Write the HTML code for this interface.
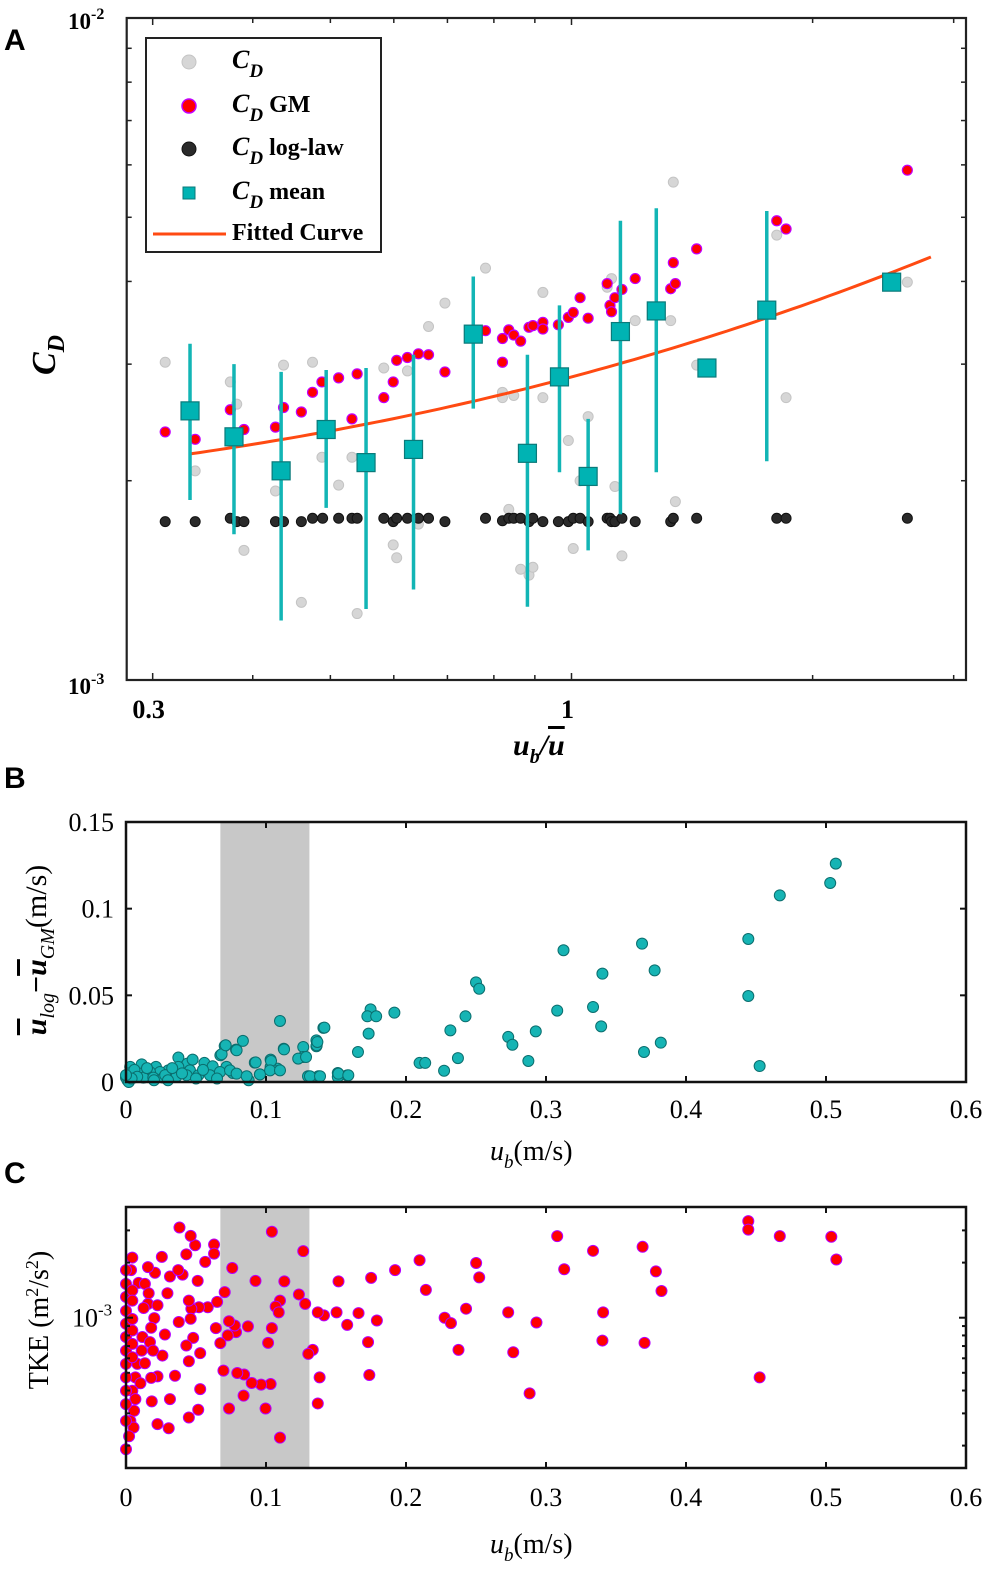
<!DOCTYPE html>
<html><head><meta charset="utf-8"><style>
html,body{margin:0;padding:0;background:#fff;}
svg{display:block;}
text{font-family:"Liberation Serif",serif;}
.lab{font-family:"Liberation Sans",sans-serif;font-weight:bold;font-size:30px;}
</style></head><body>
<svg id="fig" width="989" height="1570" viewBox="0 0 989 1570" xmlns="http://www.w3.org/2000/svg">
<text class="lab" x="4" y="50">A</text>
<text class="lab" x="4" y="788">B</text>
<text class="lab" x="4" y="1183">C</text>
<g id="pa"></g>
<g id="pb"></g>
<g id="pc"></g>
</svg>
<script>
// ===== Panel A data =====
const greyU=[0.311,0.375,0.382,0.339,0.390,0.427,0.437,0.460,0.475,0.488,0.512,0.532,0.540,0.583,0.599,0.605,0.624,0.644,0.663,0.695,0.781,0.820,0.820,0.835,0.847,0.864,0.885,0.895,0.921,0.921,0.991,1.005,1.025,1.049,1.108,1.122,1.133,1.156,1.201,1.330,1.340,1.348,1.433,1.804,1.853,2.626];
const greyCD=[3.02e-3,2.82e-3,2.61e-3,2.07e-3,1.57e-3,1.93e-3,2.99e-3,1.31e-3,3.02e-3,2.17e-3,1.97e-3,2.17e-3,1.26e-3,2.96e-3,1.60e-3,1.53e-3,2.93e-3,1.72e-3,3.42e-3,3.71e-3,4.19e-3,2.72e-3,2.67e-3,1.81e-3,2.69e-3,1.47e-3,1.44e-3,1.48e-3,3.85e-3,2.67e-3,2.30e-3,1.58e-3,2.00e-3,2.50e-3,3.92e-3,4.04e-3,1.96e-3,1.54e-3,3.49e-3,3.49e-3,5.65e-3,1.86e-3,2.99e-3,4.70e-3,2.67e-3,3.99e-3];
const gmU=[0.311,0.339,0.375,0.390,0.427,0.437,0.460,0.475,0.488,0.512,0.532,0.540,0.583,0.599,0.605,0.624,0.644,0.663,0.695,0.781,0.820,0.820,0.835,0.847,0.864,0.885,0.895,0.921,0.921,0.963,0.991,1.005,1.025,1.049,1.108,1.117,1.122,1.133,1.156,1.201,1.330,1.340,1.348,1.433,1.804,1.853,2.626];
const gmCD=[2.37e-3,2.31e-3,2.56e-3,2.39e-3,2.41e-3,2.58e-3,2.54e-3,2.72e-3,2.82e-3,2.86e-3,2.48e-3,2.90e-3,2.67e-3,2.82e-3,3.04e-3,3.07e-3,3.11e-3,3.10e-3,2.92e-3,3.37e-3,3.28e-3,3.02e-3,3.38e-3,3.32e-3,3.25e-3,3.41e-3,3.43e-3,3.47e-3,3.39e-3,3.44e-3,3.53e-3,3.59e-3,3.78e-3,3.52e-3,3.97e-3,3.68e-3,3.60e-3,3.78e-3,3.89e-3,4.04e-3,3.90e-3,4.27e-3,3.97e-3,4.48e-3,4.94e-3,4.80e-3,5.89e-3];
const logU=[0.311,0.339,0.375,0.382,0.390,0.427,0.437,0.460,0.475,0.489,0.512,0.532,0.540,0.583,0.599,0.605,0.624,0.644,0.663,0.695,0.781,0.820,0.835,0.847,0.864,0.885,0.895,0.921,0.963,0.991,1.005,1.025,1.049,1.108,1.117,1.122,1.133,1.156,1.201,1.330,1.340,1.433,1.804,1.853,2.626];
const logCD=[1.735e-3,1.735e-3,1.755e-3,1.735e-3,1.735e-3,1.735e-3,1.735e-3,1.735e-3,1.755e-3,1.755e-3,1.755e-3,1.755e-3,1.755e-3,1.755e-3,1.735e-3,1.755e-3,1.755e-3,1.755e-3,1.755e-3,1.735e-3,1.755e-3,1.74e-3,1.755e-3,1.755e-3,1.755e-3,1.735e-3,1.755e-3,1.735e-3,1.735e-3,1.735e-3,1.755e-3,1.755e-3,1.735e-3,1.755e-3,1.755e-3,1.735e-3,1.735e-3,1.755e-3,1.735e-3,1.735e-3,1.755e-3,1.755e-3,1.755e-3,1.755e-3,1.755e-3];
const meanU=[0.334,0.379,0.434,0.494,0.554,0.635,0.754,0.881,0.966,1.049,1.151,1.276,1.476,1.753,2.51];
const meanCD=[2.55e-3,2.33e-3,2.07e-3,2.39e-3,2.13e-3,2.23e-3,3.33e-3,2.20e-3,2.87e-3,2.03e-3,3.36e-3,3.61e-3,2.96e-3,3.62e-3,3.99e-3];
const meanHi=[3.22e-3,3.0e-3,2.92e-3,2.94e-3,2.96e-3,3.10e-3,4.07e-3,3.10e-3,3.68e-3,2.48e-3,4.94e-3,5.16e-3,null,5.11e-3,null];
const meanLo=[1.87e-3,1.66e-3,1.23e-3,1.82e-3,1.28e-3,1.37e-3,2.57e-3,1.29e-3,2.06e-3,1.57e-3,1.78e-3,2.06e-3,null,2.14e-3,null];
const fitCoef=[1.715e-3,1.155e-3,0.8]; // CD = a + b*u^n
const fitRange=[0.334,2.81];
const aXTicks=[0.3,1];
const aXTickLabels=["0.3","1"];

// ===== Panel B data =====
const bU=[0.507,0.503,0.467,0.4445,0.4445,0.4526,0.3686,0.3776,0.370,0.382,0.3403,0.3336,0.3394,0.3125,0.308,0.2927,0.2874,0.273,0.276,0.250,0.2523,0.2425,0.2317,0.2371,0.2272,0.2097,0.2137,0.1917,0.1747,0.1724,0.1787,0.1733,0.1657,0.158,0.1513,0.1513,0.141,0.136,0.136,0.1374,0.130,0.1266,0.1266,0.123,0.1127,0.110,0.1082,0.1033,0.1033,0.0956,0.092,0.0835,0.0786,0.0705,0.0674,0.0876,0.0718,0.0763,0.003,0.0112,0.0214,0.0374,0.0438,0.0476,0.056,0.0619,0.0683,0.0712,0.079,0.0926,0.1036,0.1129,0.1286,0.1362,0.1367,0.1417,0.0457,0.0374,0.0302,0.0243,0.0171,0.01,0.003,0,0.0052,0.0124,0.0195,0.0267,0.0362,0.0433,0.0517,0.06,0.0671,0.0743,0.079,0.0862,0.0957,0.1029,0.11,0.1314,0.1386,0.1517,0.1588,0.001,0.002,0.006,0.008,0.015,0.028,0.033,0.04,0.05,0.055,0.065,0.002,0.004,0.0,0.02,0.03];
const bDiff=[0.126,0.1148,0.1077,0.0825,0.0496,0.0092,0.0798,0.0644,0.0173,0.0227,0.0625,0.0433,0.0321,0.076,0.0412,0.0292,0.0121,0.026,0.0215,0.0575,0.0538,0.0379,0.0298,0.0138,0.0065,0.011,0.011,0.040,0.0419,0.0379,0.0379,0.0279,0.0173,0.0038,0.0052,0.0029,0.0312,0.024,0.0206,0.0033,0.0033,0.0202,0.0144,0.0135,0.0192,0.0352,0.0077,0.0129,0.0087,0.0044,0.0112,0.0237,0.0187,0.0208,0.0154,0.001,0.0087,0.0052,0.0087,0.0102,0.0087,0.0141,0.0106,0.0129,0.011,0.0091,0.016,0.0212,0.0183,0.0113,0.0121,0.0188,0.0144,0.0212,0.0231,0.0314,0.0067,0.0087,0.0067,0.0058,0.0058,0.0048,0.0039,0.0025,0.0025,0.0025,0.0025,0.0025,0.0033,0.0039,0.0039,0.0039,0.0058,0.0067,0.0048,0.0033,0.0044,0.0067,0.0067,0.0033,0.0033,0.0048,0.0039,0.001,0.005,0.007,0.003,0.008,0.004,0.008,0.005,0.002,0.007,0.002,0.0,0.002,0.004,0.001,0.001];
const band=[0.0674,0.131];
const bXTicks=[0,0.1,0.2,0.3,0.4,0.5,0.6];
const bXTickLabels=["0","0.1","0.2","0.3","0.4","0.5","0.6"];
const bYTicks=[0,0.05,0.1,0.15];
const bYTickLabels=["0","0.05","0.1","0.15"];

// ===== Panel C data =====
const cU=[0.4445,0.4445,0.467,0.5038,0.5074,0.4526,0.308,0.3336,0.369,0.313,0.3785,0.3825,0.3408,0.3403,0.3704,0.2932,0.273,0.2766,0.2883,0.2523,0.2501,0.2429,0.2276,0.2321,0.2375,0.2097,0.2142,0.1922,0.1751,0.1518,0.1729,0.1738,0.1661,0.158,0.1792,0.1414,0.137,0.1504,0.1383,0.137,0.1334,0.1302,0.128,0.1266,0.1235,0.1131,0.11,0.1069,0.1042,0.1091,0.1042,0.1015,0.1033,0.0997,0.11,0.0965,0.0898,0.0844,0.084,0.0795,0.0736,0.0696,0.0786,0.0727,0.0777,0.0736,0.0871,0.0925,0.0759,0.0674,0.0642,0.0651,0.0705,0.0629,0.0629,0.0584,0.0521,0.0467,0.0566,0.0512,0.0494,0.0431,0.0462,0.0382,0.0404,0.0314,0.0373,0.0296,0.0449,0.0462,0.048,0.0431,0.053,0.0449,0.0377,0.0278,0.035,0.026,0.0225,0.018,0.0314,0.0184,0.0225,0.0305,0.053,0.0516,0.0449,0.0256,0.0207,0.0157,0.0045,0.0036,0.009,0.0135,0.0162,0.0157,0.0225,0.0202,0.018,0.0126,0.0117,0.0171,0.0112,0.0193,0.0081,0.0135,0.0067,0.0103,0.0045,0.0067,0.0058,0.0031,0.0054,0.0022,0,0,0,0,0,0,0,0,0,0,0,0,0,0.0045,0.0045,0.0045,0.0045,0.0045,0.0045];
const cTKE=[3.37,3.03,2.79,2.77,2.08,0.472,2.79,2.32,2.44,1.84,1.79,1.40,1.07,0.750,0.729,0.942,1.07,0.647,0.386,1.66,1.99,1.12,1.0,0.934,0.667,2.06,1.42,1.82,1.65,1.58,0.735,0.486,1.06,0.914,0.966,1.03,1.07,1.07,0.472,0.340,0.667,0.634,1.19,2.31,1.34,1.58,1.24,1.15,2.95,1.07,0.877,0.729,0.434,0.319,0.221,0.431,0.44,0.489,0.375,0.499,0.319,0.514,0.834,0.80,0.907,0.957,0.896,1.59,1.87,0.726,0.877,1.22,1.38,2.51,2.24,1.14,1.14,1.12,2.02,1.59,2.49,2.22,2.80,3.11,1.72,1.68,1.82,1.36,1.24,0.987,0.776,0.705,0.64,0.578,0.947,0.809,0.482,0.621,0.478,0.469,0.359,0.349,0.262,0.249,0.407,0.314,0.285,2.15,1.76,1.89,2.13,1.82,1.55,1.53,1.36,1.19,1.17,0.994,0.881,1.13,0.784,0.735,0.661,0.661,0.559,0.564,0.472,0.438,0.399,0.359,0.31,0.273,0.251,0.225,0.191,1.82,1.53,1.30,1.09,0.926,0.784,0.661,0.559,0.472,0.399,0.337,0.273,1.41,1.24,0.984,0.851,0.719,0.608]; // units of 1e-3
const cYTicks=[1e-3];
const cYTickLabels=["10"];

// ===== helpers =====
const NS="http://www.w3.org/2000/svg";
function mk(parent,tag,attrs){const e=document.createElementNS(NS,tag);for(const k in attrs)e.setAttribute(k,attrs[k]);parent.appendChild(e);return e;}

// ===== Panel A =====
const A={l:126.7,r:966,t:18,b:680};
const ax=v=>571.5+801*Math.log10(v);
const ay=v=>680-662*(Math.log10(v)+3);
const pa=document.getElementById('pa');
(function(){
  const tg=mk(pa,'g',{stroke:'#222','stroke-width':1.5});
  
  
  [0.3,0.4,0.5,0.6,0.7,0.8,0.9,1,2,3].forEach(v=>{const x=ax(v);const L=(v===1||v===0.3)?7:5;
    mk(tg,'line',{x1:x,x2:x,y1:A.b,y2:A.b-L});mk(tg,'line',{x1:x,x2:x,y1:A.t,y2:A.t+L});});
  for(let k=2;k<=9;k++){const y=ay(k*1e-3);mk(tg,'line',{x1:A.l,x2:A.l+5,y1:y,y2:y});mk(tg,'line',{x1:A.r,x2:A.r-5,y1:y,y2:y});}
  greyU.forEach((u,i)=>{const c=mk(pa,'circle',{cx:ax(u),cy:ay(greyCD[i]),r:5,fill:'#d6d6d6',stroke:'#c4c4c4','stroke-width':1});
    
    });
  logU.forEach((u,i)=>{const c=mk(pa,'circle',{cx:ax(u),cy:ay(logCD[i]),r:5,fill:'#2a2a2a',stroke:'#111','stroke-width':1});
    
    });
  gmU.forEach((u,i)=>{const c=mk(pa,'circle',{cx:ax(u),cy:ay(gmCD[i]),r:5,fill:'#ff0000',stroke:'#c000ff','stroke-width':1.2});
    
    });
  let d='';for(let i=0;i<=80;i++){const u=fitRange[0]*Math.pow(fitRange[1]/fitRange[0],i/80);const cd=fitCoef[0]+fitCoef[1]*Math.pow(u,fitCoef[2]);d+=(i?'L':'M')+ax(u).toFixed(1)+' '+ay(cd).toFixed(1);}
  const fc=mk(pa,'path',{d:d,fill:'none',stroke:'#ff4a12','stroke-width':3});
  
  
  meanU.forEach((u,i)=>{const x=ax(u);
    if(meanHi[i]!==null){const e=mk(pa,'line',{x1:x,x2:x,y1:ay(meanHi[i]),y2:ay(meanLo[i]),stroke:'#12b5b5','stroke-width':3.5});
      
      }
    const s=mk(pa,'rect',{x:x-9,y:ay(meanCD[i])-9,width:18,height:18,fill:'#00b3b3',stroke:'#0a7a7a','stroke-width':1.2});
    
    });
  const fr=mk(pa,'rect',{x:A.l,y:A.t,width:A.r-A.l,height:A.b-A.t,fill:'none',stroke:'#222','stroke-width':2.2});
  
  
  aXTicks.forEach((v,i)=>{const t=mk(pa,'text',{x:ax(v)-4,y:718,'text-anchor':'middle','font-size':26,'font-weight':'bold'});t.textContent=aXTickLabels[i];
    
    });
  [[-2,29],[-3,694]].forEach(p=>{const t=mk(pa,'text',{x:68,y:p[1],'font-size':23,'font-weight':'bold'});
    t.innerHTML='10<tspan dy="-10" font-size="16">'+p[0]+'</tspan>';
    
    });
  const xt=mk(pa,'text',{x:513,y:755,'font-size':30,'font-weight':'bold','font-style':'italic'});
  xt.innerHTML='u<tspan dy="8" font-size="20">b</tspan><tspan dy="-8">/</tspan><tspan text-decoration="overline">u</tspan>';
  
  
  const yt=mk(pa,'text',{transform:'translate(55,355) rotate(-90)','font-size':34,'font-weight':'bold','font-style':'italic','text-anchor':'middle'});
  yt.innerHTML='C<tspan dy="9" font-size="24">D</tspan>';
  
  
  const lg=mk(pa,'g',{});
  
  
  mk(lg,'rect',{x:146,y:38,width:235,height:214,fill:'#fff',stroke:'#222','stroke-width':2});
  const items=[['grey','C','',62],['red','C',' GM',106],['black','C',' log-law',149],['sq','C',' mean',193],['line','','Fitted Curve',234]];
  items.forEach(it=>{const y=it[3];
    if(it[0]==='grey')mk(lg,'circle',{cx:189,cy:y,r:7,fill:'#d6d6d6',stroke:'#c4c4c4'});
    if(it[0]==='red')mk(lg,'circle',{cx:189,cy:y,r:7,fill:'#ff0000',stroke:'#c000ff','stroke-width':1.5});
    if(it[0]==='black')mk(lg,'circle',{cx:189,cy:y,r:7,fill:'#2a2a2a',stroke:'#111'});
    if(it[0]==='sq')mk(lg,'rect',{x:183,y:y-6,width:12,height:12,fill:'#00b3b3',stroke:'#0a7a7a'});
    if(it[0]==='line')mk(lg,'line',{x1:153,x2:226,y1:y,y2:y,stroke:'#ff4a12','stroke-width':3});
    const t=mk(lg,'text',{x:232,y:y+6,'font-size':24,'font-weight':'bold'});
    if(it[1])t.innerHTML='<tspan font-style="italic" font-size="26">C</tspan><tspan dy="9" font-style="italic" font-size="19">D</tspan><tspan dy="-9">'+it[2]+'</tspan>';
    else t.textContent=it[2];
    
    });
})();

// ===== Panel B =====
const B={l:126,r:966,t:822,b:1082};
const bx=v=>B.l+v/0.6*(B.r-B.l);
const by=v=>B.b-v/0.15*(B.b-B.t);
const pb=document.getElementById('pb');
(function(){
  const bd=mk(pb,'rect',{x:bx(band[0]),y:B.t,width:bx(band[1])-bx(band[0]),height:B.b-B.t,fill:'#c8c8c8'});
  
  
  bU.forEach((u,i)=>{const c=mk(pb,'circle',{cx:bx(u),cy:by(bDiff[i]),r:5.5,fill:'#16b4b4',stroke:'#0b6e6e','stroke-width':1});
    
    });
  const fr=mk(pb,'rect',{x:B.l,y:B.t,width:B.r-B.l,height:B.b-B.t,fill:'none',stroke:'#111','stroke-width':2.5});
  
  
  bXTicks.forEach((v,i)=>{const x=bx(v);mk(pb,'line',{x1:x,x2:x,y1:B.b,y2:B.b-6,stroke:'#111','stroke-width':2});mk(pb,'line',{x1:x,x2:x,y1:B.t,y2:B.t+6,stroke:'#111','stroke-width':2});
    const t=mk(pb,'text',{x:x,y:1118,'text-anchor':'middle','font-size':26});t.textContent=bXTickLabels[i];
    
    });
  bYTicks.forEach((v,i)=>{const y=by(v);mk(pb,'line',{x1:B.l,x2:B.l+6,y1:y,y2:y,stroke:'#111','stroke-width':2});mk(pb,'line',{x1:B.r,x2:B.r-6,y1:y,y2:y,stroke:'#111','stroke-width':2});
    const t=mk(pb,'text',{x:114,y:y+9,'text-anchor':'end','font-size':26});t.textContent=bYTickLabels[i];
    
    });
  const xt=mk(pb,'text',{x:490,y:1160,'font-size':28});
  xt.innerHTML='<tspan font-style="italic">u</tspan><tspan dy="8" font-size="19" font-style="italic">b</tspan><tspan dy="-8">(m/s)</tspan>';
  
  
  const yt=mk(pb,'text',{transform:'translate(46,950) rotate(-90)','font-size':30,'text-anchor':'middle','font-weight':'bold'});
  yt.innerHTML='<tspan font-style="italic" text-decoration="overline">u</tspan><tspan dy="8" font-size="20" font-style="italic" font-weight="normal">log</tspan><tspan dy="-8">−</tspan><tspan font-style="italic" text-decoration="overline">u</tspan><tspan dy="8" font-size="20" font-style="italic" font-weight="normal">GM</tspan><tspan dy="-8" font-weight="normal">(m/s)</tspan>';
  
  
})();

// ===== Panel C =====
const C={l:126,r:966,t:1207,b:1468};
const cx=v=>C.l+v/0.6*(C.r-C.l);
const cy=v=>1317.7-183*Math.log10(v/1e-3);
const pc=document.getElementById('pc');
(function(){
  const bd=mk(pc,'rect',{x:cx(band[0]),y:C.t,width:cx(band[1])-cx(band[0]),height:C.b-C.t,fill:'#c8c8c8'});
  
  
  cU.forEach((u,i)=>{const c=mk(pc,'circle',{cx:cx(u),cy:cy(cTKE[i]*1e-3),r:5.5,fill:'#ff0000',stroke:'#b400ff','stroke-width':1});
    
    });
  const fr=mk(pc,'rect',{x:C.l,y:C.t,width:C.r-C.l,height:C.b-C.t,fill:'none',stroke:'#111','stroke-width':2.5});
  
  
  bXTicks.forEach((v,i)=>{const x=cx(v);mk(pc,'line',{x1:x,x2:x,y1:C.b,y2:C.b-6,stroke:'#111','stroke-width':2});mk(pc,'line',{x1:x,x2:x,y1:C.t,y2:C.t+6,stroke:'#111','stroke-width':2});
    const t=mk(pc,'text',{x:x,y:1506,'text-anchor':'middle','font-size':26});t.textContent=bXTickLabels[i];
    
    });
  [2e-4,3e-4,4e-4,5e-4,6e-4,7e-4,8e-4,9e-4,1e-3,2e-3,3e-3].forEach(v=>{const y=cy(v);const L=v===1e-3?7:4;
    mk(pc,'line',{x1:C.l,x2:C.l+L,y1:y,y2:y,stroke:'#111','stroke-width':2});mk(pc,'line',{x1:C.r,x2:C.r-L,y1:y,y2:y,stroke:'#111','stroke-width':2});});
  cYTicks.forEach((v,i)=>{const t=mk(pc,'text',{x:72,y:cy(v)+9,'font-size':26});
    t.innerHTML=cYTickLabels[i]+'<tspan dy="-11" font-size="17">-3</tspan>';
    
    });
  const xt=mk(pc,'text',{x:490,y:1553,'font-size':28});
  xt.innerHTML='<tspan font-style="italic">u</tspan><tspan dy="8" font-size="19" font-style="italic">b</tspan><tspan dy="-8">(m/s)</tspan>';
  
  
  const yt=mk(pc,'text',{transform:'translate(48,1320) rotate(-90)','font-size':28,'text-anchor':'middle'});
  yt.innerHTML='TKE (m<tspan dy="-10" font-size="18">2</tspan><tspan dy="10">/s</tspan><tspan dy="-10" font-size="18">2</tspan><tspan dy="10">)</tspan>';
  
  
})();
</script>
</body></html>
